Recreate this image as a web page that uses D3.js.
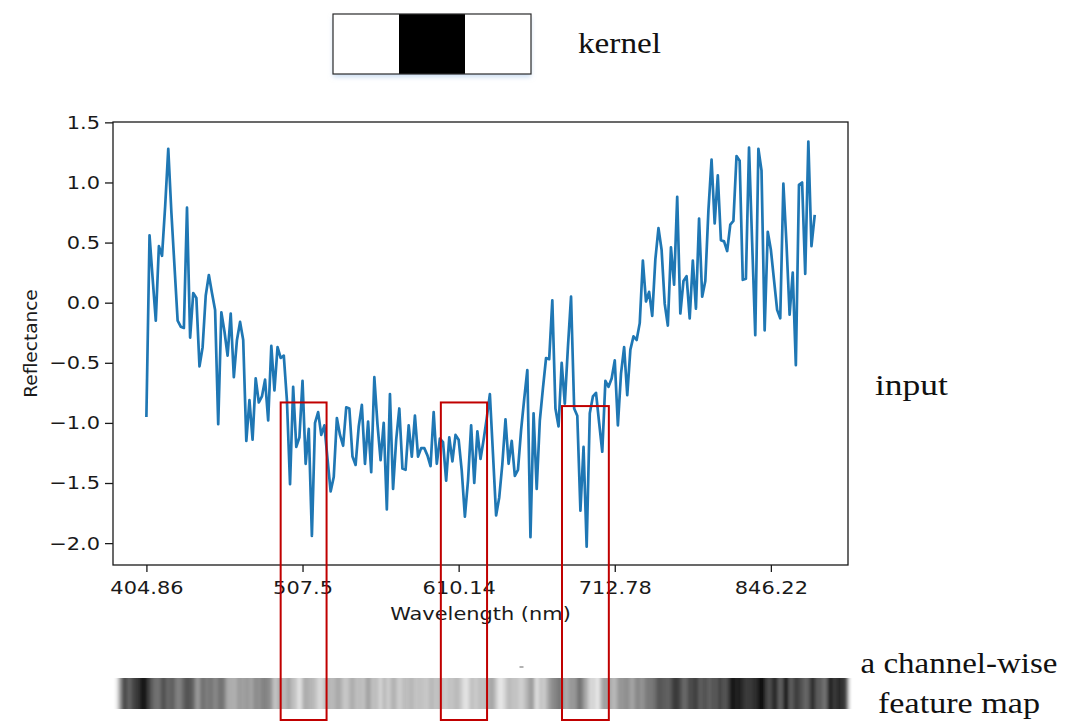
<!DOCTYPE html>
<html><head><meta charset="utf-8">
<script src="https://cdn.jsdelivr.net/npm/d3@7"></script>
<style>body{margin:0;background:#fff;} svg{display:block;}</style>
</head><body><svg id="c" width="1075" height="723"></svg>
<script>
// ---------- data ----------
const reflectance = [
 -0.94, 0.56, 0.20,-0.15, 0.47, 0.39, 0.80, 1.28, 0.75, 0.30,
 -0.15,-0.20,-0.21, 0.79,-0.29, 0.08, 0.04,-0.53,-0.37, 0.06,
  0.23, 0.08,-0.06,-1.01,-0.08,-0.24,-0.44,-0.09,-0.62,-0.31,
 -0.16,-0.31,-1.15,-0.81,-1.14,-0.63,-0.83,-0.78,-0.64,-0.98,
 -0.36,-0.73,-0.37,-0.46,-0.44,-0.81,-1.51,-0.70,-1.20,-1.12,
 -0.65,-1.34,-1.05,-1.94,-1.00,-0.91,-1.10,-1.02,-1.30,-1.57,
 -1.45,-0.96,-1.10,-1.19,-0.87,-0.88,-1.28,-1.35,-1.03,-0.85,
 -1.34,-0.99,-1.41,-0.62,-1.01,-1.31,-1.00,-1.72,-0.76,-1.55,
 -1.14,-0.88,-1.38,-1.39,-1.02,-1.28,-0.94,-1.28,-1.21,-1.21,
 -1.27,-1.36,-0.91,-1.34,-1.13,-1.16,-1.48,-1.12,-1.32,-1.10,
 -1.14,-1.40,-1.78,-1.48,-1.02,-1.50,-1.07,-1.30,-1.14,-0.96,
 -0.76,-1.26,-1.77,-1.62,-1.34,-0.97,-1.34,-1.15,-1.44,-1.39,
 -1.06,-0.80,-0.56,-1.95,-0.92,-1.55,-0.98,-0.71,-0.46,-0.47,
  0.02,-0.88,-1.03,-0.50,-0.84,-0.37, 0.05,-0.88,-0.94,-1.73,
 -1.20,-2.03,-0.92,-0.78,-0.75,-1.00,-1.24,-0.65,-0.70,-0.63,
 -0.48,-1.02,-0.59,-0.37,-0.77,-0.39,-0.28,-0.31,-0.17, 0.35,
  0.01, 0.09,-0.11, 0.36, 0.62, 0.44,-0.01,-0.19, 0.46, 0.15,
  0.88,-0.09, 0.18, 0.22,-0.13, 0.35,-0.05, 0.70, 0.05, 0.18,
  0.77, 1.19, 0.66, 1.06, 0.52, 0.51, 0.43, 0.65, 0.68, 1.22,
  1.18, 0.19, 0.20, 1.29, 0.50,-0.27, 1.28, 1.10,-0.23, 0.59,
  0.44, 0.19,-0.06,-0.13, 0.99, 0.49,-0.10, 0.25,-0.52, 0.98,
  1.00, 0.24, 1.34, 0.47, 0.72
];
const xTickIndex  = [0, 50, 100, 150, 200];
const xTickLabels = ["404.86", "507.5", "610.14", "712.78", "846.22"];
const yTickValues = [-2.0, -1.5, -1.0, -0.5, 0.0, 0.5, 1.0, 1.5];
const kernelCells = [0, 1, 0];
const boxStart = [43, 94.3, 133.1];
const boxEnd   = [57.7, 109.1, 148.1];
const boxTop   = [-0.83, -0.83, -0.86];
const xAxisTitle = "Wavelength (nm)";
const yAxisTitle = "Reflectance";

// ---------- layout ----------
const svg = d3.select("#c");
const plot = {left: 113, top: 122, right: 848, bottom: 565};
const n = reflectance.length;
const x = d3.scaleLinear().domain([-10.7, (n - 1) + 10.7]).range([plot.left, plot.right]);
const y = d3.scaleLinear().domain([-2.182, 1.503]).range([plot.bottom, plot.top]);
const axisFont = "'DejaVu Sans', sans-serif";
const serif = "'Liberation Serif', 'DejaVu Serif', serif";
const stretchF = 1.13;

function stretch(sel, f) {
  sel.each(function () {
    const l = this.getComputedTextLength();
    d3.select(this).attr("textLength", l * f).attr("lengthAdjust", "spacingAndGlyphs");
  });
}

const defs = svg.append("defs");
const sh = defs.append("filter").attr("id", "shadow").attr("x", "-10%").attr("y", "-20%").attr("width", "120%").attr("height", "160%");
sh.append("feDropShadow").attr("dx", 0).attr("dy", 3).attr("stdDeviation", 2.5)
  .attr("flood-color", "#9fc0e6").attr("flood-opacity", 0.55);
const bl = defs.append("filter").attr("id", "blur").attr("x", "-2%").attr("y", "-5%").attr("width", "104%").attr("height", "110%");
bl.append("feGaussianBlur").attr("stdDeviation", "2 0.6");

// ---------- kernel ----------
const kx = d3.scaleBand().domain(d3.range(kernelCells.length)).range([333, 531]);
const kTop = 14, kBot = 74;
const kg = svg.append("g");
kg.append("rect").attr("x", 333).attr("y", kTop).attr("width", 198).attr("height", kBot - kTop)
  .attr("fill", "#fff").attr("filter", "url(#shadow)");
kg.selectAll("rect.cell").data(kernelCells).join("rect").attr("class", "cell")
  .attr("x", (d, i) => kx(i)).attr("y", kTop).attr("width", kx.bandwidth()).attr("height", kBot - kTop)
  .attr("fill", d => d ? "#000" : "#fff");
kg.append("rect").attr("x", 333).attr("y", kTop).attr("width", 198).attr("height", kBot - kTop)
  .attr("fill", "none").attr("stroke", "#2a2a2a").attr("stroke-width", 1.2);

// ---------- plot ----------
const g = svg.append("g");
g.append("path").datum(reflectance)
  .attr("fill", "none").attr("stroke", "#1f77b4").attr("stroke-width", 2.7)
  .attr("stroke-linejoin", "round").attr("stroke-linecap", "square")
  .attr("d", d3.line().x((d, i) => x(i)).y(d => y(d)));

g.append("rect").attr("x", plot.left).attr("y", plot.top)
  .attr("width", plot.right - plot.left).attr("height", plot.bottom - plot.top)
  .attr("fill", "none").attr("stroke", "#1a1a1a").attr("stroke-width", 1.3);

const xAxis = d3.axisBottom(x).tickValues(xTickIndex).tickFormat((d, i) => xTickLabels[i])
  .tickSize(7).tickPadding(9);
const xa = g.append("g").attr("transform", `translate(0,${plot.bottom})`).call(xAxis);
const yAxis = d3.axisLeft(y).tickValues(yTickValues).tickFormat(d3.format(".1f"))
  .tickSize(8).tickPadding(5);
const ya = g.append("g").attr("transform", `translate(${plot.left},0)`).call(yAxis);
[xa, ya].forEach(a => {
  a.select(".domain").remove();
  a.selectAll(".tick line").attr("stroke", "#1a1a1a").attr("stroke-width", 1.3);
  a.selectAll(".tick text").attr("fill", "#1a1a1a").style("font-family", axisFont).style("font-size", "18.5px");
});
stretch(xa.selectAll(".tick text"), stretchF);
stretch(ya.selectAll(".tick text"), stretchF);

const xt = g.append("text").attr("x", (plot.left + plot.right) / 2).attr("y", 620)
  .attr("text-anchor", "middle").attr("fill", "#1a1a1a")
  .style("font-family", axisFont).style("font-size", "18.5px").text(xAxisTitle);
stretch(xt, stretchF);
g.append("text").attr("transform", `translate(37,${(plot.top + plot.bottom) / 2}) rotate(-90)`)
  .attr("text-anchor", "middle").attr("fill", "#1a1a1a")
  .style("font-family", axisFont).style("font-size", "18.5px").text(yAxisTitle);

// ---------- feature map strip ----------
const sx = d3.scaleBand().domain(d3.range(n)).range([118, 847]);
const gray = d3.scaleLinear().domain([-2.0, 1.2]).range(["#ffffff", "#000000"]).clamp(true);
const strip = svg.append("g").attr("filter", "url(#blur)");
strip.selectAll("rect").data(reflectance).join("rect")
  .attr("x", (d, i) => sx(i)).attr("y", 678).attr("width", sx.bandwidth() + 0.4).attr("height", 31)
  .attr("fill", d => gray(d));
svg.append("line").attr("x1", 519.5).attr("x2", 523.5).attr("y1", 667).attr("y2", 667)
  .attr("stroke", "#999").attr("stroke-width", 1.5);

// ---------- highlight boxes ----------
svg.selectAll("rect.hl").data(boxStart).join("rect").attr("class", "hl")
  .attr("x", (d, i) => x(d)).attr("y", (d, i) => y(boxTop[i]))
  .attr("width", (d, i) => x(boxEnd[i]) - x(d)).attr("height", (d, i) => 720 - y(boxTop[i]))
  .attr("fill", "none").attr("stroke", "#c00000").attr("stroke-width", 2);

// ---------- side labels ----------
const lab = (t, xx, yy, w, anchor) => {
  const el = svg.append("text").attr("x", xx).attr("y", yy).attr("text-anchor", anchor || "start")
    .attr("fill", "#111").style("font-family", serif).style("font-size", "29px").text(t);
  el.attr("textLength", w).attr("lengthAdjust", "spacingAndGlyphs");
};
lab("kernel", 578, 53, 83);
lab("input", 875, 395, 73);
lab("a channel-wise", 959, 673, 197, "middle");
lab("feature map", 959, 713, 162, "middle");
</script></body></html>
